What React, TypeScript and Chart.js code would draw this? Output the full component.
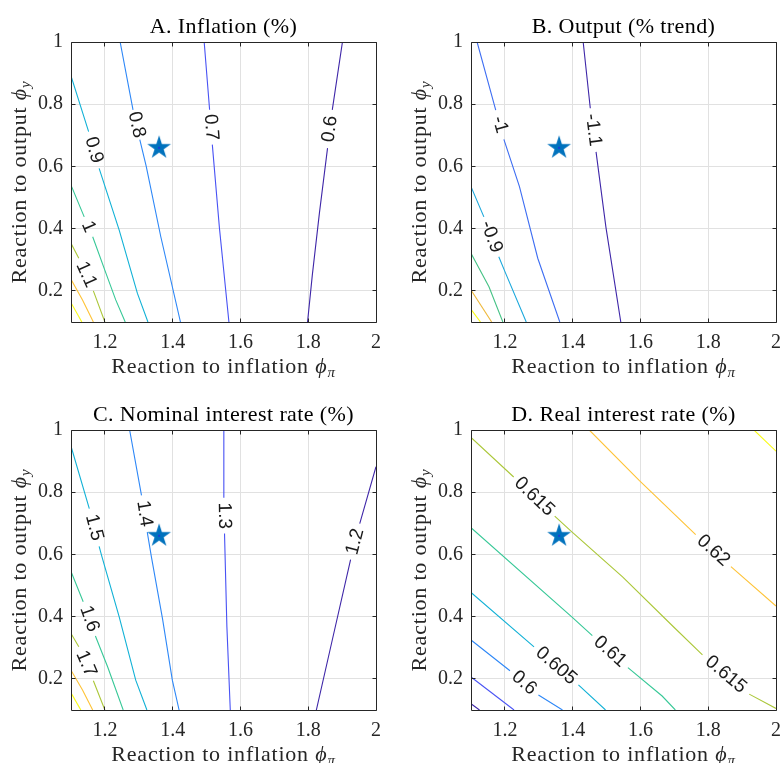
import React, { useEffect, useRef } from 'react';
import { Chart, registerables } from 'chart.js';

Chart.register(...registerables);

// ---------- shared axes ----------
const xTicks = [1.2, 1.4, 1.6, 1.8, 2];
const yTicks = [0.2, 0.4, 0.6, 0.8, 1];
const xMin = 1.1;
const xMax = 2;
const yMin = 0.1;
const yMax = 1;
const starX = 1.36;
const starY = 0.66;

const panelTitles = [
  'A. Inflation (%)',
  'B. Output (% trend)',
  'C. Nominal interest rate (%)',
  'D. Real interest rate (%)',
];

// ---------- A. Inflation ----------
const inflationLabels = ['0.6', '0.7', '0.8', '0.9', '1', '1.1', '', ''];
const inflationX = [
  [1.798, 1.812, 1.833, 1.857, null, 1.871, 1.901],
  [1.566, 1.538, 1.517, null, 1.509, 1.493],
  [1.423, 1.365, 1.322, 1.303, null, 1.283, 1.245],
  [1.1, 1.152, null, 1.183, 1.242, 1.296, 1.327],
  [1.1, 1.139, null, 1.164, 1.203, 1.232, 1.26],
  [1.1, 1.123, null, 1.166, 1.2],
  [1.1, 1.134, 1.166],
  [1.1, 1.132],
];
const inflationY = [
  [0.1, 0.25, 0.45, 0.659, null, 0.782, 1.0],
  [0.1, 0.402, 0.67, null, 0.782, 1.0],
  [0.1, 0.374, 0.6, 0.686, null, 0.782, 1.0],
  [0.891, 0.712, null, 0.594, 0.396, 0.192, 0.1],
  [0.54, 0.438, null, 0.374, 0.257, 0.171, 0.1],
  [0.353, 0.305, null, 0.2, 0.1],
  [0.237, 0.171, 0.1],
  [0.162, 0.1],
];

// ---------- B. Output ----------
const outputLabels = ['-1.1', '-1', '-0.9', '', '', ''];
const outputX = [
  [1.431, 1.452, null, 1.469, 1.498, 1.542],
  [1.118, 1.173, null, 1.197, 1.243, 1.297, 1.362],
  [1.1, 1.138, null, 1.182, 1.202, 1.263],
  [1.1, 1.153, 1.194],
  [1.1, 1.161],
  [1.1, 1.128],
];
const outputY = [
  [1.0, 0.787, null, 0.647, 0.406, 0.1],
  [1.0, 0.781, null, 0.687, 0.535, 0.305, 0.1],
  [0.535, 0.438, null, 0.31, 0.257, 0.1],
  [0.321, 0.213, 0.1],
  [0.203, 0.1],
  [0.141, 0.1],
];

// ---------- C. Nominal interest rate ----------
const nominalLabels = ['1.2', '1.3', '1.4', '1.5', '1.6', '1.7', '', ''];
const nominalX = [
  [1.824, 1.871, 1.925, null, 1.952, 2.0],
  [1.551, 1.551, null, 1.553, 1.56, 1.57],
  [1.273, 1.308, null, 1.325, 1.337, 1.37, 1.399, 1.419],
  [1.1, 1.154, null, 1.183, 1.191, 1.242, 1.291, 1.324],
  [1.1, 1.136, null, 1.172, 1.208, 1.254],
  [1.1, 1.123, null, 1.166, 1.2],
  [1.1, 1.134, 1.164],
  [1.1, 1.129],
];
const nominalY = [
  [0.1, 0.325, 0.583, null, 0.699, 0.882],
  [1.0, 0.782, null, 0.667, 0.368, 0.1],
  [1.0, 0.79, null, 0.672, 0.594, 0.394, 0.196, 0.1],
  [0.948, 0.747, null, 0.626, 0.594, 0.4, 0.196, 0.1],
  [0.545, 0.448, null, 0.338, 0.239, 0.1],
  [0.346, 0.303, null, 0.194, 0.1],
  [0.228, 0.164, 0.1],
  [0.155, 0.1],
];

// ---------- D. Real interest rate ----------
const realLabels = ['', '', '0.6', '0.605', '0.61', '0.615', '0.62', ''];
const realX = [
  [1.1, 1.125],
  [1.1, 1.227],
  [1.1, 1.215, null, 1.299, 1.37],
  [1.1, 1.286, null, 1.417, 1.497],
  [1.1, 1.399, 1.458, null, 1.563, 1.664, 1.703],
  [1.1, 1.226, null, 1.347, 1.396, 1.548, 1.695, 1.783, null, 1.921, 2.0],
  [1.449, 1.597, 1.763, null, 1.867, 2.0],
  [1.935, 2.0],
];
const realY = [
  [0.12, 0.1],
  [0.206, 0.1],
  [0.325, 0.226, null, 0.148, 0.1],
  [0.478, 0.303, null, 0.181, 0.1],
  [0.686, 0.398, 0.339, null, 0.236, 0.145, 0.1],
  [0.976, 0.849, null, 0.723, 0.674, 0.527, 0.37, 0.277, null, 0.151, 0.105],
  [1.0, 0.837, 0.664, null, 0.561, 0.434],
  [1.0, 0.932],
];

// ---------- styles ----------
const parula8 = ['#3e26a8', '#4852f4', '#2d87f7', '#11b1d6', '#37c897', '#abc739', '#fec338', '#f9fb14'];
const outputColors = ['#3e26a8', '#3d6df2', '#1ba8dc', '#45c285', '#eeb83b', '#f9fb0e'];

const SERIF = '"Liberation Serif", "Times New Roman", Times, serif';
const SANS = '"Liberation Sans", Arial, Helvetica, sans-serif';

const panels = [
  { title: panelTitles[0], xs: inflationX, ys: inflationY, labels: inflationLabels, colors: parula8 },
  { title: panelTitles[1], xs: outputX, ys: outputY, labels: outputLabels, colors: outputColors },
  { title: panelTitles[2], xs: nominalX, ys: nominalY, labels: nominalLabels, colors: parula8 },
  { title: panelTitles[3], xs: realX, ys: realY, labels: realLabels, colors: parula8 },
];

function makeStar(): HTMLCanvasElement {
  const c = document.createElement('canvas');
  c.width = 28;
  c.height = 28;
  const g = c.getContext('2d')!;
  const R = 12.5;
  const r = R * 0.382;
  const cx = 14;
  const cy = 14;
  g.beginPath();
  for (let k = 0; k < 10; k++) {
    const a = -Math.PI / 2 + (k * Math.PI) / 5;
    const rad = k % 2 === 0 ? R : r;
    const px = cx + rad * Math.cos(a);
    const py = cy + rad * Math.sin(a);
    if (k === 0) g.moveTo(px, py);
    else g.lineTo(px, py);
  }
  g.closePath();
  g.fillStyle = '#0072BD';
  g.fill();
  g.fillStyle = '#1a3cd8';
  g.fillRect(13, 13, 2, 2);
  return c;
}

function drawParts(ctx: CanvasRenderingContext2D, parts: { t: string; f: string; dy: number }[], x: number, y: number) {
  let total = 0;
  const widths = parts.map((p) => {
    ctx.font = p.f;
    const w = ctx.measureText(p.t).width;
    total += w;
    return w;
  });
  let cx = x - total / 2;
  parts.forEach((p, i) => {
    ctx.font = p.f;
    ctx.fillText(p.t, cx, y + p.dy);
    cx += widths[i];
  });
}

const decorPlugin = {
  id: 'decor',
  afterDatasetsDraw(chart: any, _args: any, opts: any) {
    const ctx: CanvasRenderingContext2D = chart.ctx;
    const { left, right, top, bottom } = chart.chartArea;
    const xs = chart.scales.x;
    const ys = chart.scales.y;

    // contour labels
    ctx.save();
    ctx.font = '19px ' + SANS;
    ctx.fillStyle = '#1a1a1a';
    ctx.textAlign = 'center';
    ctx.textBaseline = 'middle';
    chart.data.datasets.forEach((ds: any) => {
      if (!ds.contourLabel) return;
      const d = ds.data;
      for (let k = 1; k < d.length - 1; k++) {
        if (d[k].y !== null) continue;
        const x1 = xs.getPixelForValue(d[k - 1].x);
        const y1 = ys.getPixelForValue(d[k - 1].y);
        const x2 = xs.getPixelForValue(d[k + 1].x);
        const y2 = ys.getPixelForValue(d[k + 1].y);
        let ang = Math.atan2(y2 - y1, x2 - x1);
        if (ang > Math.PI / 2) ang -= Math.PI;
        if (ang <= -Math.PI / 2) ang += Math.PI;
        ctx.save();
        ctx.translate((x1 + x2) / 2, (y1 + y2) / 2);
        ctx.rotate(ang);
        ctx.fillText(ds.contourLabel, 0, 0);
        ctx.restore();
      }
    });
    ctx.restore();

    // box + inward ticks
    ctx.save();
    ctx.strokeStyle = '#262626';
    ctx.lineWidth = 1;
    const L = Math.round(left - 0.5) + 0.5;
    const Rr = Math.round(right - 0.5) + 0.5;
    const T = Math.round(top - 0.5) + 0.5;
    const B = Math.round(bottom - 0.5) + 0.5;
    ctx.beginPath();
    ctx.rect(L, T, Rr - L, B - T);
    const tl = 4;
    xs.ticks.forEach((t: any) => {
      const px = Math.round(xs.getPixelForValue(t.value) - 0.5) + 0.5;
      ctx.moveTo(px, B);
      ctx.lineTo(px, B - tl);
      ctx.moveTo(px, T);
      ctx.lineTo(px, T + tl);
    });
    ys.ticks.forEach((t: any) => {
      const py = Math.round(ys.getPixelForValue(t.value) - 0.5) + 0.5;
      ctx.moveTo(L, py);
      ctx.lineTo(L + tl, py);
      ctx.moveTo(Rr, py);
      ctx.lineTo(Rr - tl, py);
    });
    ctx.stroke();
    ctx.restore();

    // titles
    ctx.save();
    ctx.fillStyle = '#000';
    ctx.textBaseline = 'alphabetic';
    ctx.textAlign = 'left';
    (ctx as any).letterSpacing = '0.4px';
    drawParts(ctx, [{ t: opts.title, f: '22px ' + SERIF, dy: 0 }], (left + right) / 2, top - 9);
    (ctx as any).letterSpacing = '0.8px';
    ctx.fillStyle = '#262626';
    drawParts(
      ctx,
      [
        { t: 'Reaction to inflation ', f: '22px ' + SERIF, dy: 0 },
        { t: 'ϕ', f: 'italic 22px ' + SERIF, dy: 0 },
        { t: 'π', f: 'italic 15px ' + SERIF, dy: 4 },
      ],
      (left + right) / 2,
      bottom + 51
    );
    ctx.translate(left - 45, (top + bottom) / 2);
    ctx.rotate(-Math.PI / 2);
    drawParts(
      ctx,
      [
        { t: 'Reaction to output ', f: '22px ' + SERIF, dy: 0 },
        { t: 'ϕ', f: 'italic 22px ' + SERIF, dy: 0 },
        { t: 'y', f: 'italic 15px ' + SERIF, dy: 4 },
      ],
      0,
      0
    );
    ctx.restore();
  },
};

function Panel({ idx, left, top }: { idx: number; left: number; top: number }) {
  const ref = useRef<HTMLCanvasElement>(null);
  useEffect(() => {
    const p = panels[idx];
    const star = makeStar();
    const datasets: any[] = [
      {
        data: [{ x: starX, y: starY }],
        pointStyle: star,
        pointRadius: 12,
        showLine: false,
        order: -1,
      },
    ];
    p.xs.forEach((xsArr, i) => {
      datasets.push({
        data: xsArr.map((x, k) => ({ x: x, y: p.ys[i][k] })),
        showLine: true,
        spanGaps: false,
        pointRadius: 0,
        borderColor: p.colors[i],
        borderWidth: 1.1,
        tension: 0,
        fill: false,
        contourLabel: p.labels[i],
      });
    });
    const tickFont = { family: SERIF, size: 20 };
    const chart = new Chart(ref.current!, {
      type: 'scatter',
      data: { datasets },
      plugins: [decorPlugin as any],
      options: {
        animation: false,
        responsive: false,
        events: [],
        layout: { padding: { left: 0, right: 13, top: 42, bottom: 0 } },
        plugins: {
          legend: { display: false },
          tooltip: { enabled: false },
          decor: { title: p.title },
        } as any,
        scales: {
          x: {
            type: 'linear',
            min: xMin,
            max: xMax,
            afterBuildTicks: (s: any) => {
              s.ticks = xTicks.map((v) => ({ value: v }));
            },
            afterFit: (s: any) => {
              s.height = 58;
            },
            ticks: {
              font: tickFont,
              color: '#262626',
              padding: 9,
              maxRotation: 0,
              autoSkip: false,
              callback: (v: any) => String(v),
            },
            grid: { color: '#e1e1e1', lineWidth: 1, drawTicks: false },
            border: { display: false },
          },
          y: {
            type: 'linear',
            min: yMin,
            max: yMax,
            afterBuildTicks: (s: any) => {
              s.ticks = yTicks.map((v) => ({ value: v }));
            },
            afterFit: (s: any) => {
              s.width = 71;
            },
            ticks: {
              font: tickFont,
              color: '#262626',
              padding: 8,
              autoSkip: false,
              callback: (v: any) => String(v),
            },
            grid: { color: '#e1e1e1', lineWidth: 1, drawTicks: false },
            border: { display: false },
          },
        },
      },
    });
    return () => chart.destroy();
  }, [idx]);
  return (
    <canvas
      ref={ref}
      width={390}
      height={380}
      style={{ position: 'absolute', left, top, width: 390, height: 380 }}
    />
  );
}

export default function App() {
  return (
    <div
      style={{
        position: 'absolute',
        left: 0,
        top: 0,
        width: 781,
        height: 763,
        overflow: 'hidden',
        background: '#fff',
      }}
    >
      <Panel idx={0} left={0} top={0} />
      <Panel idx={1} left={400} top={0} />
      <Panel idx={2} left={0} top={388} />
      <Panel idx={3} left={400} top={388} />
    </div>
  );
}
